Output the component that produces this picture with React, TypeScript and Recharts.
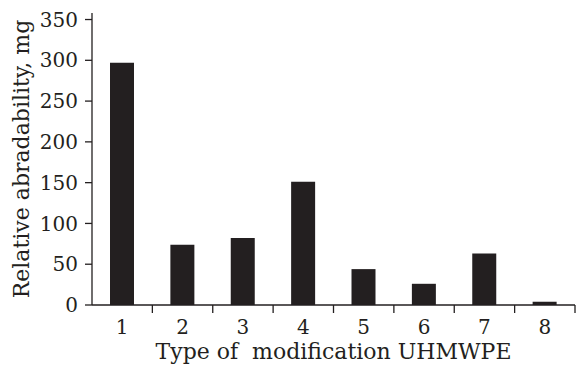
import { Bar, BarChart, XAxis, YAxis } from 'recharts';

const types = ['1', '2', '3', '4', '5', '6', '7', '8'];
const abradability = [297, 74, 82, 151, 44, 26, 63, 4];
const yTicks = [0, 50, 100, 150, 200, 250, 300, 350];

const ink = '#231f20';
const font = 'DejaVu Serif';

// category label plus a tick mark on the right boundary of its band
function TypeTick(props: any) {
  const { x, y, payload } = props;
  const half = payload?.offset ?? 0;
  return (
    <g>
      <line x1={x + half} x2={x + half} y1={y - 15} y2={y - 7} stroke={ink} strokeWidth={1.3} />
      <text
        x={x}
        y={y}
        dy="0.71em"
        textAnchor="middle"
        fill={ink}
        fontSize={20}
        fontFamily={font}
      >
        {payload.value}
      </text>
    </g>
  );
}

export default function App() {
  const data = types.map((t, i) => ({ type: t, value: abradability[i] }));

  return (
    <div style={{ position: 'absolute', left: 0, top: 0 }}>
      <BarChart
        width={576}
        height={365}
        data={data}
        margin={{ top: 13, right: 1, left: 0, bottom: 0 }}
      >
        <XAxis
          dataKey="type"
          tickLine={false}
          tickSize={8}
          tickMargin={7}
          interval={0}
          axisLine={{ stroke: ink, strokeWidth: 1.3 }}
          tick={<TypeTick />}
          height={60}
          label={{
            value: 'Type of\u00a0 modification UHMWPE',
            position: 'insideBottom',
            offset: 6,
            fill: ink,
            fontSize: 22,
            fontFamily: font,
          }}
        />
        <YAxis
          domain={[0, 358]}
          ticks={yTicks}
          width={92}
          tickSize={7}
          tickMargin={7}
          axisLine={{ stroke: ink, strokeWidth: 1.3 }}
          tickLine={{ stroke: ink, strokeWidth: 1.3 }}
          tick={{ fill: ink, fontSize: 20, fontFamily: font }}
          label={{
            value: 'Relative abradability, mg',
            angle: -90,
            position: 'insideLeft',
            offset: 21,
            fill: ink,
            fontSize: 22,
            fontFamily: font,
            style: { textAnchor: 'middle' },
          }}
        />
        <Bar dataKey="value" fill={ink} barSize={24} isAnimationActive={false} />
      </BarChart>
    </div>
  );
}
